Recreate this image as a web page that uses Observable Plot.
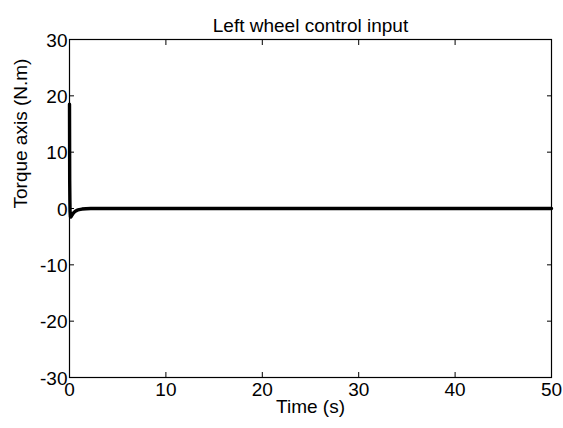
<!DOCTYPE html>
<html>
<head>
<meta charset="utf-8">
<script src="https://cdn.jsdelivr.net/npm/d3@7"></script>
<script src="https://cdn.jsdelivr.net/npm/@observablehq/plot@0.6"></script>
<style>
  html, body { margin: 0; padding: 0; background: #fff; }
  svg { font-family: "Liberation Sans", Arial, sans-serif; }
</style>
</head>
<body>
<div id="chart"></div>
<script>
const titleText = "Left wheel control input";
const xLabel = "Time (s)";
const yLabel = "Torque axis (N.m)";
const xTicks = [0, 10, 20, 30, 40, 50];
const yTicks = [-30, -20, -10, 0, 10, 20, 30];

// Left wheel torque vs time
const time   = [0, 0.01, 0.02, 0.04, 0.06, 0.1, 0.15, 0.25, 0.4, 0.6, 0.8, 1.0, 1.3, 1.7, 2.2, 3, 5, 10, 20, 30, 40, 50];
const torque = [18.5, 12, 5, 1.5, -0.5, -1.5, -1.5, -1.2, -0.8, -0.5, -0.3, -0.2, -0.1, -0.04, 0, 0, 0, 0, 0, 0, 0, 0];

const data = time.map((t, i) => ({t, v: torque[i]}));

const FS = 19;
const fmt = d => String(d);
const chart = Plot.plot({
  width: 563,
  height: 428,
  marginLeft: 69,
  marginRight: 12,
  marginTop: 39,
  marginBottom: 51,
  style: {fontSize: FS + "px", fontFamily: "'Liberation Sans', Arial, sans-serif", background: "#fff", color: "#000"},
  x: {domain: [0, 50]},
  y: {domain: [-30, 30]},
  marks: [
    Plot.line(data, {x: "t", y: "v", stroke: "#000", strokeWidth: 3.4}),
    Plot.frame({stroke: "#000", strokeWidth: 1.2}),
    // tick labels
    Plot.axisX(xTicks, {anchor: "bottom", tickSize: 0, tickPadding: 5, tickFormat: fmt, label: null, fontSize: FS}),
    Plot.axisY(yTicks, {anchor: "left", tickSize: 0, tickPadding: 2, dy: 1, tickFormat: fmt, label: null, fontSize: FS}),
    // inward ticks on all sides
    Plot.axisX(xTicks, {anchor: "bottom", tickSize: -5, tickFormat: () => "", label: null}),
    Plot.axisX(xTicks, {anchor: "top", tickSize: -5, tickFormat: () => "", label: null}),
    Plot.axisY(yTicks, {anchor: "left", tickSize: -5, tickFormat: () => "", label: null}),
    Plot.axisY(yTicks, {anchor: "right", tickSize: -5, tickFormat: () => "", label: null}),
    // title and axis labels
    Plot.text([titleText], {frameAnchor: "top", dy: -21, fontSize: FS, text: d => d}),
    Plot.text([xLabel], {frameAnchor: "bottom", dy: 35, fontSize: FS, text: d => d}),
    Plot.text([yLabel], {frameAnchor: "left", dx: -49, rotate: -90, fontSize: FS, text: d => d})
  ]
});
document.getElementById("chart").appendChild(chart);
</script>
</body>
</html>
